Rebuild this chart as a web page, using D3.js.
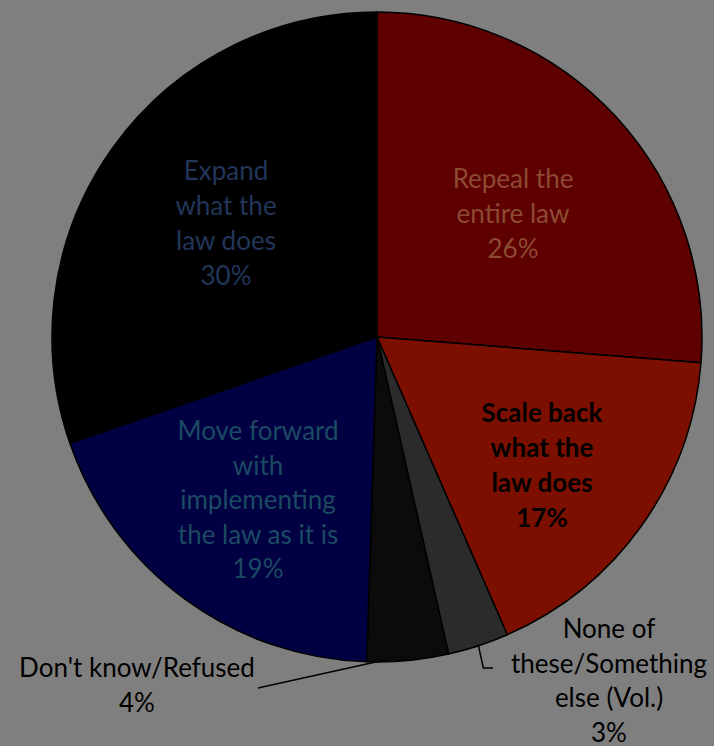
<!DOCTYPE html>
<html><head><meta charset="utf-8">
<script src="https://cdn.jsdelivr.net/npm/d3@7"></script>
<style>body{margin:0;background:#7f7f7f}svg{display:block}</style>
</head><body>
<script>
const categories = ["Repeal the entire law","Scale back what the law does","None of these/Something else (Vol.)","Don't know/Refused","Move forward with implementing the law as it is","Expand what the law does"];
const values = [26,17,3,4,19,30];
const colors = ["#5e0000","#7c0f00","#2b2b2b","#0b0b0b","#000042","#000000"];
const labelLines = [
  ["Repeal the","entire law","26%"],
  ["Scale back","what the","law does","17%"],
  ["None of","these/Something","else (Vol.)","3%"],
  ["Don't know/Refused","4%"],
  ["Move forward","with","implementing","the law as it is","19%"],
  ["Expand","what the","law does","30%"]
];
const labelColors = ["#8c4a32","#000000","#000000","#000000","#1c4a62","#22365a"];
const labelWeights = ["normal","bold","normal","normal","normal","normal"];

const W=714,H=746,cx=377,cy=337,R=325;
const svg=d3.select("body").append("svg").attr("width",W).attr("height",H);
svg.append("rect").attr("width",W).attr("height",H).attr("fill","#7f7f7f");
const pie=d3.pie().sort(null).value(d=>d)(values);
const arc=d3.arc().innerRadius(0).outerRadius(R);
const g=svg.append("g").attr("transform",`translate(${cx},${cy})`);
g.selectAll("path").data(pie).join("path").attr("d",arc)
  .attr("fill",(d,i)=>colors[i]).attr("stroke","#000").attr("stroke-width",1.5);

// first-line baseline and x center per label
const labelPos=[[513,188],[542,422],[609,638],[137,677],[258,440],[226,180]];
const lineH=[35,35,34.5,35,34.5,35];
labelLines.forEach((lines,i)=>{
  const t=svg.append("text").attr("text-anchor","middle")
    .attr("font-family","Lato, 'Open Sans', sans-serif").attr("font-size",26)
    .attr("font-weight",labelWeights[i]).attr("fill",labelColors[i]);
  lines.forEach((s,j)=>{
    t.append("tspan").attr("x",labelPos[i][0]).attr("y",labelPos[i][1]+j*lineH[i]).text(s);
  });
});
// leader lines
const angDK=(pie[3].startAngle+pie[3].endAngle)/2+0.04;
svg.append("path").attr("d",`M258,688L${cx+R*Math.sin(angDK)-8},${cy-R*Math.cos(angDK)-2}`)
  .attr("stroke","#000").attr("stroke-width",1.5).attr("fill","none");
const angN=(pie[2].startAngle+pie[2].endAngle)/2;
const nx=cx+R*Math.sin(angN), ny=cy-R*Math.cos(angN);
svg.append("path").attr("d",`M${nx},${ny}L${nx+5},668L493,668`)
  .attr("stroke","#000").attr("stroke-width",1.5).attr("fill","none");
</script>
</body></html>
